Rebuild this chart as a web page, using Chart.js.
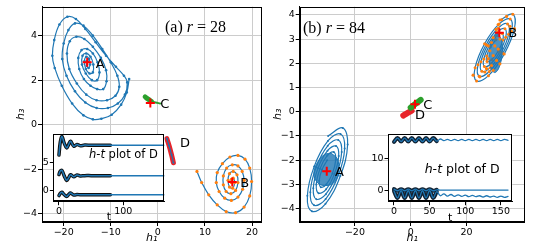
<!DOCTYPE html>
<html>
<head>
<meta charset="utf-8">
<script src="https://cdn.jsdelivr.net/npm/chart.js@4.4.0/dist/chart.umd.min.js"></script>
<style>
  body { margin: 0; background: #fff; }
  #wrap { position: relative; width: 538px; height: 247px; }
  canvas { position: absolute; }
</style>
</head>
<body>
<div id="wrap">
  <canvas id="mainA" width="268" height="247" style="left:0;top:0"></canvas>
  <canvas id="mainB" width="270" height="247" style="left:268px;top:0"></canvas>
  <canvas id="insetA" width="140" height="105" style="left:30px;top:125px"></canvas>
  <canvas id="insetB" width="160" height="105" style="left:360px;top:125px"></canvas>
</div>
<script>
// ---- panel (a), r = 28 : (h1, h3) pairs ----
const xTicks28 = [-20, -10, 0, 10, 20];
const yTicks28 = [-4, -2, 0, 2, 4];
const orbitA28 = [
  [-6.1, 2.05], [-6.6, 1.45], [-7.8, 0.9], [-9.8, 0.45], [-12.0, 0.27], [-13.8, 0.24], [-15.8, 0.42],
  [-18.2, 0.95], [-20.4, 1.75], [-21.9, 2.55], [-22.4, 3.1], [-22.0, 3.8], [-20.9, 4.5], [-19.2, 4.85],
  [-17.4, 4.75], [-15.4, 4.3], [-13.2, 3.7], [-11.0, 3.1], [-8.9, 2.6], [-7.2, 2.2], [-6.5, 1.9],
  [-7.0, 1.35], [-8.5, 0.95], [-10.6, 0.75], [-13.0, 0.75], [-15.4, 1.0], [-17.6, 1.5], [-19.4, 2.2],
  [-20.3, 2.95], [-20.0, 3.65], [-19.0, 4.25], [-17.6, 4.55], [-15.8, 4.45], [-13.8, 4.0], [-11.8, 3.4],
  [-10.0, 2.8], [-8.6, 2.2], [-8.2, 1.7], [-9.0, 1.3], [-10.8, 1.1], [-13.0, 1.1], [-15.2, 1.35],
  [-17.2, 1.85], [-18.8, 2.5], [-19.3, 3.2], [-18.7, 3.75], [-17.3, 3.95], [-15.6, 3.85], [-13.8, 3.5],
  [-12.1, 3.0], [-11.0, 2.45], [-10.9, 1.95], [-11.6, 1.6], [-12.9, 1.6], [-14.3, 1.75], [-15.7, 2.05],
  [-16.7, 2.5], [-16.9, 3.0], [-16.2, 3.35], [-15.0, 3.4], [-13.8, 3.2], [-12.8, 2.8], [-12.4, 2.35],
  [-12.9, 2.0], [-14.0, 2.0], [-15.3, 2.3], [-16.1, 2.7], [-16.0, 3.1], [-15.2, 3.2], [-14.3, 3.05],
  [-13.7, 2.7], [-13.8, 2.35], [-14.5, 2.3], [-15.3, 2.5], [-15.6, 2.85], [-15.2, 3.05], [-14.6, 2.95],
  [-14.4, 2.7], [-14.7, 2.55], [-15.1, 2.65], [-15.1, 2.85], [-14.9, 2.85], [-15.0, 2.8]
];
const orbitB28 = [
  [8.3, -2.1], [9.3, -2.6], [10.8, -3.15], [12.6, -3.6], [14.5, -3.9], [16.5, -3.95], [18.3, -3.7],
  [19.5, -3.2], [19.9, -2.55], [19.5, -1.95], [18.5, -1.55], [17.0, -1.38], [15.3, -1.45], [13.7, -1.75],
  [12.6, -2.15], [12.4, -2.6], [13.0, -3.0], [14.2, -3.3], [15.6, -3.4], [17.0, -3.25], [18.0, -2.9],
  [18.3, -2.5], [17.9, -2.1], [17.0, -1.85], [15.8, -1.8], [14.6, -1.95], [13.9, -2.3], [13.9, -2.7],
  [14.5, -3.0], [15.5, -3.1], [16.5, -2.95], [17.0, -2.6], [16.8, -2.25], [16.0, -2.1], [15.2, -2.2],
  [14.9, -2.5], [15.2, -2.8], [15.9, -2.85], [16.3, -2.6], [16.0, -2.4], [15.6, -2.45], [15.6, -2.6],
  [15.8, -2.57]
];
const blobC28 = [[-2.7, 1.25], [-2.1, 1.15], [-1.4, 1.05]];
const tailC28 = [[-1.4, 1.05], [-0.5, 1.0], [0.5, 0.95]];
const blobD28 = [[1.9, -0.62], [2.4, -0.95], [2.9, -1.35], [3.3, -1.71]];
const fixed28 = [[-15.0, 2.8], [15.8, -2.57], [-1.6, 0.97]];
const labelPos28 = [[-13.2, 2.71], [17.5, -2.64], [0.5, 0.88], [4.7, -0.84]];

// ---- panel (b), r = 84 ----
const xTicks84 = [-20, 0, 20];
const yTicks84 = [-4, -3, -2, -1, 0, 1, 2, 3, 4];
const orbitA84 = [
  [-29.6, -1.0],
  [-24.37, -0.67], [-22.61, -1.36], [-25.23, -2.66], [-30.55, -3.81], [-35.43, -4.12], [-37.05, -3.48],
  [-34.62, -2.27], [-29.68, -1.21], [-25.17, -0.92], [-23.68, -1.52], [-25.93, -2.63], [-30.49, -3.61],
  [-34.63, -3.87], [-35.99, -3.33], [-33.91, -2.30], [-29.75, -1.41], [-25.97, -1.17], [-24.75, -1.67],
  [-26.64, -2.60], [-30.42, -3.41], [-33.82, -3.62], [-34.92, -3.17], [-33.21, -2.33], [-29.81, -1.61],
  [-26.78, -1.42], [-25.81, -1.83], [-27.35, -2.57], [-30.35, -3.21], [-33.02, -3.37], [-33.85, -3.01],
  [-32.50, -2.36], [-29.88, -1.81], [-27.58, -1.67], [-26.88, -1.99], [-28.05, -2.55], [-30.29, -3.01],
  [-32.22, -3.12], [-32.79, -2.85], [-31.79, -2.39], [-29.95, -2.01]
];
const blobA84 = [
  [-28.5, -1.72], [-26.3, -1.95], [-25.9, -2.45], [-27.2, -2.9], [-30.0, -3.05], [-33.3, -2.95],
  [-34.7, -2.5], [-32.6, -1.95], [-30.4, -1.75], [-28.5, -1.72]
];
const orbitB84 = [
  [32.0, 3.79],
  [36.64, 4.03], [37.21, 3.44], [33.55, 2.38], [27.91, 1.49], [23.63, 1.27], [23.11, 1.82], [26.52, 2.81],
  [31.74, 3.63], [35.70, 3.83], [36.17, 3.32], [33.02, 2.41], [28.20, 1.66], [24.58, 1.47], [24.15, 1.94],
  [27.05, 2.77], [31.45, 3.46], [34.75, 3.63], [35.13, 3.20], [32.49, 2.44], [28.50, 1.82], [25.52, 1.67],
  [25.19, 2.06], [27.58, 2.74], [31.15, 3.30], [33.81, 3.43], [34.09, 3.08], [31.96, 2.47], [28.79, 1.98],
  [26.46, 1.87], [26.24, 2.18], [28.10, 2.71], [30.86, 3.14], [32.87, 3.23], [33.04, 2.96], [31.43, 2.51],
  [29.09, 2.15], [27.41, 2.07], [27.28, 2.30], [28.63, 2.68], [30.57, 2.97]
];
const blobB84 = [
  [31.0, 3.26], [32.6, 2.95], [32.8, 2.4], [31.6, 1.8], [30.0, 1.62], [28.4, 1.95], [28.2, 2.5],
  [29.4, 3.0], [31.0, 3.26]
];
const dotsB84 = [
  [32.6, 3.8], [31.4, 3.6], [30.6, 3.4], [29.6, 3.06], [29.0, 2.86], [30.2, 2.72], [28.4, 2.52],
  [29.6, 2.32], [27.8, 2.19], [30.8, 2.12], [29.0, 1.91], [32.0, 1.98], [27.2, 1.78], [29.6, 1.71],
  [26.6, 1.64], [31.4, 2.59], [32.0, 3.0], [22.4, 1.51], [24.8, 1.44], [35.6, 3.53], [34.4, 3.94]
];
const blobC84 = [[0.0, 0.17], [1.8, 0.33], [3.6, 0.49]];
const blobD84 = [[-2.65, -0.16], [-1.2, -0.06], [0.36, 0.04]];
const fixed84 = [[-30.1, -2.46], [31.8, 3.26], [1.54, 0.31]];
const labelPos84 = [[-27.1, -2.53], [35.0, 3.24], [4.5, 0.27], [1.54, -0.16]];
const names = ['A', 'B', 'C', 'D'];

// ---- insets: h-t of D ----
const insetX28 = [0, 100];
const insetY28 = [0, 5];
const tA = [0, 2, 4.5, 8, 12, 15, 18, 23, 28, 33, 40, 50, 60, 80, 100, 120, 140, 165];
const hA1 = [6.3, 8.6, 9.7, 8.5, 7.6, 8.2, 8.8, 7.9, 8.2, 8.0, 8.1, 8.07, 8.07, 8.07, 8.07, 8.07, 8.07, 8.07];
const hA2 = [2.8, 3.4, 3.55, 2.6, 1.75, 2.2, 2.76, 2.4, 2.7, 2.55, 2.6, 2.6, 2.6, 2.6, 2.6, 2.6, 2.6, 2.6];
const hA3 = [-1.0, -0.6, -0.4, -0.8, -1.15, -0.8, -0.55, -0.9, -0.8, -0.85, -0.85, -0.85, -0.85, -0.85, -0.85, -0.85, -0.85, -0.85];
const insetX84 = [0, 50, 100, 150];
const insetY84 = [0, 10];
const tB = [0, 5, 10, 15, 20, 25, 30, 35, 40, 45, 50, 55, 60, 65, 70, 75, 80, 85, 90, 95, 100,
  105, 110, 115, 120, 125, 130, 135, 140, 145, 150, 155, 160];
const hB1 = [15.4, 16.6, 15.5, 16.6, 15.5, 16.6, 15.5, 16.6, 15.5, 16.6, 15.5, 16.6, 15.6,
  16.3, 15.8, 16.2, 15.8, 16.2, 15.8, 16.2, 15.8, 16.2, 15.8, 16.2, 15.8, 16.2, 15.8, 16.2, 15.8, 16.2, 15.8, 16.2, 15.9];
const hB2 = [0.3, -0.2, 0.3, -0.2, 0.3, -0.2, 0.3, -0.2, 0.3, -0.2, 0.3, -0.2, 0.1,
  0.0, 0.0, 0.0, 0.0, 0.0, 0.0, 0.0, 0.0, 0.0, 0.0, 0.0, 0.0, 0.0, 0.0, 0.0, 0.0, 0.0, 0.0, 0.0, 0.0];
const hB3 = [-0.3, -2.5, -0.2, -2.5, -0.2, -2.5, -0.2, -2.5, -0.2, -2.5, -0.2, -2.5, -0.5,
  -1.8, -1.2, -1.9, -1.4, -2.0, -1.5, -2.0, -1.6, -2.1, -1.7, -2.1, -1.8, -2.2, -1.8, -2.2, -1.9, -2.3, -1.9, -2.3, -2.0];

const BLUE = '#1f77b4', ORANGE = '#ff7f0e', GREEN = '#2ca02c', RED = '#e8242a';
const SANS = '"DejaVu Sans"';
const tickFont = { family: SANS, size: 9.5 };

const pts = a => a.map(p => ({ x: p[0], y: p[1] }));
const series = (t, h, tMax) => t.map((v, i) => [v, h[i]]).filter(p => p[0] <= tMax);
const fmt = v => (v < 0 ? '\u2212' + Math.abs(v) : String(v));

function orbit(a, dot, r) {
  return { data: pts(a), showLine: true, borderColor: BLUE, borderWidth: 1.2, tension: 0.4,
    pointRadius: r, pointBackgroundColor: dot, pointBorderWidth: 0 };
}
function stroke(a, color, w) {
  return { data: pts(a), showLine: true, borderColor: color, borderWidth: w, tension: 0.4,
    borderCapStyle: 'round', pointRadius: 0 };
}
function crosses(a) {
  return { data: pts(a), pointStyle: 'cross', pointRadius: 4.5, pointBorderWidth: 2,
    pointBorderColor: 'red', pointBackgroundColor: 'red' };
}
function blob(a) {
  return { data: pts(a), showLine: true, tension: 0.4, fill: 'shape', borderColor: BLUE, borderWidth: 1,
    backgroundColor: 'rgba(31,119,180,0.8)', pointRadius: 0 };
}

function drawParts(ctx, parts, x, y, size, family) {
  parts.forEach(([txt, it]) => {
    ctx.font = (it ? 'italic ' : '') + size + 'px ' + family;
    ctx.fillText(txt, x, y);
    x += ctx.measureText(txt).width;
  });
}

const decor = {
  id: 'decor',
  beforeDraw(chart, args, o) {
    if (!o.inset) return;
    const { ctx, chartArea: a } = chart;
    ctx.save();
    ctx.fillStyle = '#fff';
    ctx.fillRect(a.left, a.top, a.width, a.height);
    ctx.restore();
  },
  afterDatasetsDraw(chart, args, o) {
    const { ctx, chartArea: a, scales: { x, y } } = chart;
    ctx.save();
    ctx.fillStyle = '#000';
    ctx.textBaseline = 'middle';
    ctx.textAlign = 'left';
    if (o.labels) {
      ctx.font = '13px ' + SANS;
      o.labels.forEach((p, i) => ctx.fillText(names[i], x.getPixelForValue(p[0]), y.getPixelForValue(p[1])));
    }
    if (o.text) drawParts(ctx, o.text.parts, a.left + o.text.dx, a.top + o.text.dy, o.text.size, o.text.family);
    ctx.strokeStyle = '#000';
    ctx.lineWidth = 1;
    ctx.strokeRect(Math.round(a.left) + 0.5, Math.round(a.top) + 0.5,
      Math.round(a.width) - 1, Math.round(a.height) - 1);
    ctx.restore();
  }
};

function axis(min, max, ticks, title, fit, titlePad, onArea, tl) {
  return {
    type: 'linear', min, max,
    afterBuildTicks: s => { s.ticks = ticks.map(v => ({ value: v })); },
    afterFit: fit,
    ticks: { font: tickFont, color: '#000', padding: 1, maxRotation: 0, autoSkip: false, callback: fmt },
    grid: { drawOnChartArea: onArea, color: '#cccccc', lineWidth: 1, tickColor: '#000', tickLength: tl },
    border: { display: true, color: '#000', width: 1 },
    title: { display: title !== '', text: title, color: '#000', padding: titlePad,
      font: { family: SANS, size: 11, style: title === 't' ? 'normal' : 'italic' } }
  };
}

function makeChart(id, datasets, p) {
  return new Chart(id, {
    type: 'scatter',
    data: { datasets },
    options: {
      responsive: false,
      animation: false,
      events: [],
      layout: { padding: p.pad },
      plugins: { legend: { display: false }, tooltip: { enabled: false }, decor: p.decor },
      scales: {
        x: axis(p.x[0], p.x[1], p.xTicks, p.xTitle, s => { s.height = p.xH; }, { top: 0, bottom: p.xTitlePad }, p.grid, p.tl),
        y: axis(p.y[0], p.y[1], p.yTicks, p.yTitle, s => { s.width = p.yW; }, { top: p.yTitlePad, bottom: 0 }, p.grid, p.tl)
      }
    },
    plugins: [decor]
  });
}

makeChart('mainA', [
  crosses(fixed28),
  stroke(tailC28, GREEN, 2),
  stroke(blobC28, GREEN, 5),
  orbit(blobD28, BLUE, 1),
  stroke(blobD28, RED, 5),
  orbit(orbitB28, ORANGE, 1.6),
  orbit(orbitA28, BLUE, 1.3)
], {
  pad: { top: 2, right: 4, left: 0, bottom: 0 },
  x: [-24.6, 22], y: [-4.37, 5.3], xTicks: xTicks28, yTicks: yTicks28,
  xTitle: 'h\u2081', yTitle: 'h\u2083', xH: 25, yW: 42, xTitlePad: 2.2, yTitlePad: 14.4, grid: true, tl: 4,
  decor: { labels: labelPos28,
    text: { parts: [['(a) ', false], ['r', true], [' = 28', false]], dx: 123, dy: 21, size: 16, family: '"Liberation Serif"' } }
});

makeChart('mainB', [
  crosses(fixed84),
  stroke(blobC84, GREEN, 6),
  stroke(blobD84, RED, 6),
  { data: pts(dotsB84), pointRadius: 1.6, pointBackgroundColor: ORANGE, pointBorderWidth: 0 },
  blob(blobB84),
  orbit(orbitB84, ORANGE, 1.5),
  blob(blobA84),
  orbit(orbitA84, BLUE, 1)
], {
  pad: { top: 2, right: 13.3, left: 0, bottom: 0 },
  x: [-39.8, 40.9], y: [-4.56, 4.34], xTicks: xTicks84, yTicks: yTicks84,
  xTitle: 'h\u2081', yTitle: 'h\u2083', xH: 25, yW: 31.7, xTitlePad: 2.4, yTitlePad: 3.4, grid: true, tl: 4,
  decor: { labels: labelPos84,
    text: { parts: [['(b) ', false], ['r', true], [' = 84', false]], dx: 3.3, dy: 22, size: 16, family: '"Liberation Serif"' } }
});

makeChart('insetA', [
  stroke(series(tA, hA1, 999), BLUE, 1.5),
  stroke(series(tA, hA2, 999), BLUE, 1.5),
  stroke(series(tA, hA3, 999), BLUE, 1.5),
  stroke(series(tA, hA1, 80), '#111', 3.5),
  stroke(series(tA, hA2, 80), '#111', 3.5),
  stroke(series(tA, hA3, 80), '#111', 3.5)
], {
  pad: { top: 9.3, right: 5.7, left: 0, bottom: 0 },
  x: [-8.8, 163.7], y: [-2.1, 10.05], xTicks: insetX28, yTicks: insetY28,
  xTitle: 't', yTitle: '', xH: 28.3, yW: 23.3, xTitlePad: 6.1, yTitlePad: 0, grid: false, tl: 3.5,
  decor: { inset: true,
    text: { parts: [['h', true], ['-', false], ['t', true], [' plot of D', false]], dx: 35.7, dy: 20.7, size: 11.5, family: SANS } }
});

makeChart('insetB', [
  stroke(series(tB, hB1, 999), BLUE, 1.3),
  stroke(series(tB, hB2, 999), BLUE, 1.3),
  stroke(series(tB, hB3, 999), BLUE, 1.3),
  stroke(series(tB, hB1, 60), '#112233', 4),
  stroke(series(tB, hB2, 60), '#112233', 4),
  stroke(series(tB, hB3, 60), '#112233', 4)
], {
  pad: { top: 9.3, right: 7.7, left: 0, bottom: 0 },
  x: [-8.4, 166], y: [-3.7, 17.8], xTicks: insetX84, yTicks: insetY84,
  xTitle: 't', yTitle: '', xH: 28.3, yW: 28, xTitlePad: 5.1, yTitlePad: 0, grid: false, tl: 3.5,
  decor: { inset: true,
    text: { parts: [['h', true], ['-', false], ['t', true], [' plot of D', false]], dx: 36.7, dy: 35, size: 12.5, family: SANS } }
});
</script>
</body>
</html>
